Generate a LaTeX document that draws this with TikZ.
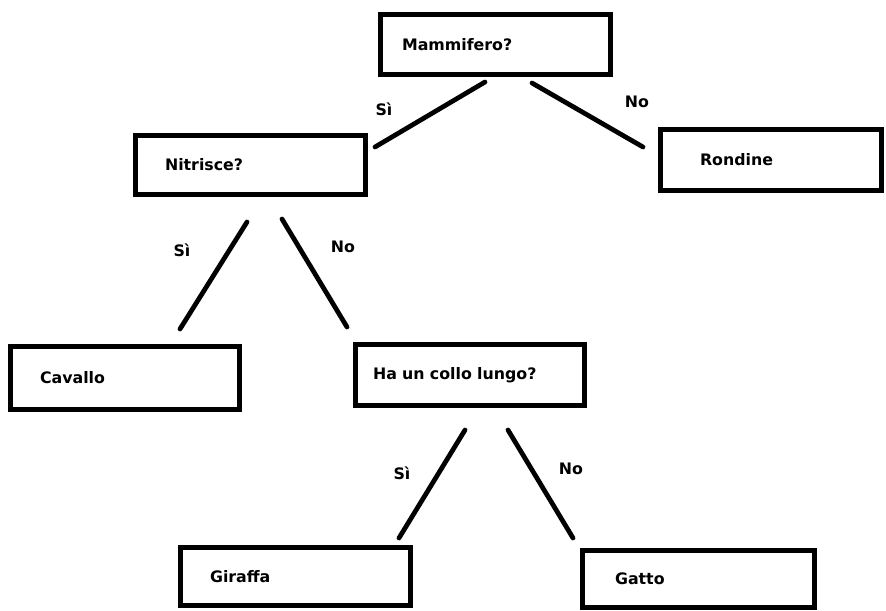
\documentclass[tikz,border=0pt]{standalone}
\usepackage{fontspec}
\setmainfont{DejaVu Sans}
\usepackage{tikz}
\usetikzlibrary{positioning,calc}
\tikzset{
  qbox/.style={draw=black,line width=0.105cm,fill=white,font=\bfseries\fontsize{9}{11}\selectfont,align=left,inner ysep=1pt},
  branch/.style={draw=black,line width=0.095cm,line cap=round},
  anslabel/.style={font=\bfseries\fontsize{9}{11}\selectfont,inner sep=0pt}
}
\begin{document}
\begin{tikzpicture}[x=0.02cm,y=-0.02cm]
\useasboundingbox (0,0) rectangle (886,610);
\node[qbox,text width=3.74cm,inner xsep=0.43cm,minimum height=1.2cm] (mam) at (495.5,44.5) {Mammifero?};
\node[qbox,text width=3.42cm,inner xsep=0.59cm,minimum height=1.18cm] (nit) at (250.5,165) {Nitrisce?};
\node[qbox,text width=2.84cm,inner xsep=0.79cm,minimum height=1.22cm] (ron) at (771,160) {Rondine};
\node[qbox,text width=3.4cm,inner xsep=0.59cm,minimum height=1.26cm] (cav) at (125,378) {Cavallo};
\node[qbox,text width=3.88cm,inner xsep=0.35cm,minimum height=1.22cm] (collo) at (470,375) {Ha un collo lungo?};
\node[qbox,text width=3.42cm,inner xsep=0.59cm,minimum height=1.16cm] (gir) at (295.5,576.5) {Giraffa};
\node[qbox,text width=3.34cm,inner xsep=0.65cm,minimum height=1.14cm] (gat) at (698.5,579) {Gatto};
\coordinate (mam-si) at (485,82);
\coordinate (nit-top) at (375,147);
\coordinate (mam-no) at (532,83);
\coordinate (ron-top) at (643,147);
\coordinate (nit-si) at (247,222);
\coordinate (cav-top) at (180,329);
\coordinate (nit-no) at (282,219);
\coordinate (collo-top) at (347,327);
\coordinate (collo-si) at (465,430);
\coordinate (gir-top) at (399,538);
\coordinate (collo-no) at (508,430);
\coordinate (gat-top) at (573,538);
\draw[branch] (mam-si) -- (nit-top);
\draw[branch] (mam-no) -- (ron-top);
\draw[branch] (nit-si) -- (cav-top);
\draw[branch] (nit-no) -- (collo-top);
\draw[branch] (collo-si) -- (gir-top);
\draw[branch] (collo-no) -- (gat-top);
\node[anslabel] (l1) at (384,109) {Sì};
\node[anslabel] (l2) at (637,102) {No};
\node[anslabel] (l3) at (182,250) {Sì};
\node[anslabel] (l4) at (343,247) {No};
\node[anslabel] (l5) at (402,473) {Sì};
\node[anslabel] (l6) at (571,469) {No};
\end{tikzpicture}
\end{document}
